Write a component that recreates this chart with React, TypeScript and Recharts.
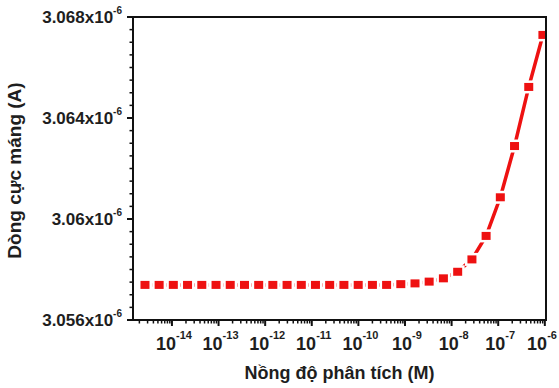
import React from 'react';
import { LineChart, Line, XAxis, YAxis } from 'recharts';

// Analyte concentration (M)
const concentrations = [
  2.64e-15, 5.31e-15, 1.07e-14, 2.16e-14, 4.37e-14, 8.83e-14, 1.78e-13, 3.6e-13,
  7.26e-13, 1.46e-12, 2.95e-12, 5.96e-12, 1.2e-11, 2.42e-11, 4.89e-11, 9.91e-11,
  2.0e-10, 4.03e-10, 8.13e-10, 1.64e-9, 3.3e-9, 6.67e-9, 1.35e-8, 2.73e-8,
  5.5e-8, 1.11e-7, 2.24e-7, 4.52e-7, 9.1e-7,
];
// Drain current (A)
const drainCurrents = [
  3.05739e-6, 3.05739e-6, 3.05739e-6, 3.05739e-6, 3.05739e-6, 3.05739e-6, 3.05739e-6, 3.05739e-6,
  3.05739e-6, 3.05739e-6, 3.05739e-6, 3.05739e-6, 3.05739e-6, 3.05739e-6, 3.05739e-6, 3.05739e-6,
  3.05739e-6, 3.05739e-6, 3.05742e-6, 3.05745e-6, 3.05752e-6, 3.05765e-6, 3.05791e-6, 3.0584e-6,
  3.05933e-6, 3.06086e-6, 3.06289e-6, 3.06523e-6, 3.06729e-6,
];

const xMajorTicks = [1e-14, 1e-13, 1e-12, 1e-11, 1e-10, 1e-9, 1e-8, 1e-7, 1e-6];
const xMajorLabels = ['-14', '-13', '-12', '-11', '-10', '-9', '-8', '-7', '-6'];
const xDomain = [1.46e-15, 1.06e-6];

const yMajorTicks = [3.056e-6, 3.06e-6, 3.064e-6, 3.068e-6];
const yMajorLabels = ['3.056', '3.06', '3.064', '3.068'];
const yDomain = [3.056e-6, 3.068e-6];

const xTitle = 'Nồng độ phân tích (M)';
const yTitle = 'Dòng cực máng (A)';

const data = concentrations.map((c, i) => ({ c, i: drainCurrents[i] }));

const xMinorTicks: number[] = [];
for (let e = -15; e <= -7; e++) {
  for (let m = 2; m <= 9; m++) {
    const v = m * Math.pow(10, e);
    if (v >= xDomain[0] && v <= xDomain[1]) xMinorTicks.push(v);
  }
}
const xTicks = [...xMajorTicks, ...xMinorTicks].sort((a, b) => a - b);

const yTicks: number[] = [];
for (let k = 0; k <= 24; k++) yTicks.push(Number((3.056 + k * 0.0005).toFixed(4)) * 1e-6);

const FONT = '"Liberation Sans", Arial, sans-serif';
const TEXT = '#1e1e1e';
const AXIS = '#111';
const RED = '#ee1111';
const CHART_W = 559;

const XTick = (props: any) => {
  const { x, y, payload } = props;
  const v = payload.value;
  const idx = xMajorTicks.findIndex((t) => Math.abs(Math.log10(t) - Math.log10(v)) < 1e-6);
  const major = idx >= 0;
  const tx = Math.min(x + 2, CHART_W - 17);
  return (
    <g>
      <line x1={x} x2={x} y1={y} y2={y + (major ? 6 : 3.5)} stroke={AXIS} strokeWidth={major ? 2 : 1.5} />
      {major && (
        <text x={tx} y={y + 30} textAnchor="middle" fontFamily={FONT} fontWeight="bold" fontSize={18} fill={TEXT}>
          10
          <tspan dy={-11} fontSize={11}>{xMajorLabels[idx]}</tspan>
        </text>
      )}
    </g>
  );
};

const YTick = (props: any) => {
  const { x, y, payload } = props;
  const v = payload.value;
  const idx = yMajorTicks.findIndex((t) => Math.abs(t - v) < 1e-12);
  const major = idx >= 0;
  return (
    <g>
      <line x1={x - (major ? 6 : 3.5)} x2={x} y1={y} y2={y} stroke={AXIS} strokeWidth={major ? 2 : 1.5} />
      {major && (
        <text x={x - 11} y={y + 6} textAnchor="end" fontFamily={FONT} fontWeight="bold" fontSize={17} fill={TEXT}>
          {yMajorLabels[idx]}x10
          <tspan dy={-9} fontSize={10}>-6</tspan>
        </text>
      )}
    </g>
  );
};

const XTitle = (props: any) => {
  const vb = props.viewBox;
  return (
    <text x={vb.x + vb.width / 2} y={vb.y + 59} textAnchor="middle" fontFamily={FONT} fontWeight="bold" fontSize={18} fill={TEXT}>
      {xTitle}
    </text>
  );
};

const YTitle = (props: any) => {
  const vb = props.viewBox;
  const cx = vb.x + 21;
  const cy = vb.y + vb.height / 2 + 2;
  return (
    <text x={cx} y={cy} transform={`rotate(-90, ${cx}, ${cy})`} textAnchor="middle" fontFamily={FONT} fontWeight="bold" fontSize={19} fill={TEXT}>
      {yTitle}
    </text>
  );
};

const SquareDot = (props: any) => {
  const { cx, cy, index } = props;
  if (cx == null || cy == null) return <g key={index} />;
  return (
    <g key={index}>
      <rect x={cx - 7} y={cy - 6.5} width={14} height={13} fill="#fff" />
      <rect x={cx - 4.5} y={cy - 4} width={9} height={8} fill={RED} />
    </g>
  );
};

export default function App() {
  return (
    <div style={{ position: 'absolute', left: 0, top: 0, width: 559, height: 388, background: '#fff' }}>
      <LineChart width={559} height={388} data={data} margin={{ top: 17, right: 13, left: 0, bottom: 0 }}>
        <XAxis
          dataKey="c"
          type="number"
          scale="log"
          domain={xDomain}
          allowDataOverflow
          ticks={xTicks}
          interval={0}
          tickLine={false}
          tickSize={0}
          tickMargin={0}
          tick={XTick}
          height={68}
          axisLine={{ stroke: AXIS, strokeWidth: 2 }}
          label={XTitle}
        />
        <YAxis
          dataKey="i"
          type="number"
          domain={yDomain}
          allowDataOverflow
          ticks={yTicks}
          interval={0}
          tickLine={false}
          tickSize={0}
          tickMargin={0}
          tick={YTick}
          width={133}
          axisLine={{ stroke: AXIS, strokeWidth: 2 }}
          label={YTitle}
        />
        <Line
          dataKey="i"
          type="linear"
          stroke={RED}
          strokeWidth={3.5}
          dot={SquareDot}
          activeDot={false}
          isAnimationActive={false}
        />
      </LineChart>
      <div
        style={{
          position: 'absolute',
          left: 133,
          top: 16,
          width: 414,
          height: 305,
          borderTop: `2px solid ${AXIS}`,
          borderRight: `2px solid ${AXIS}`,
          boxSizing: 'border-box',
          pointerEvents: 'none',
        }}
      />
    </div>
  );
}
